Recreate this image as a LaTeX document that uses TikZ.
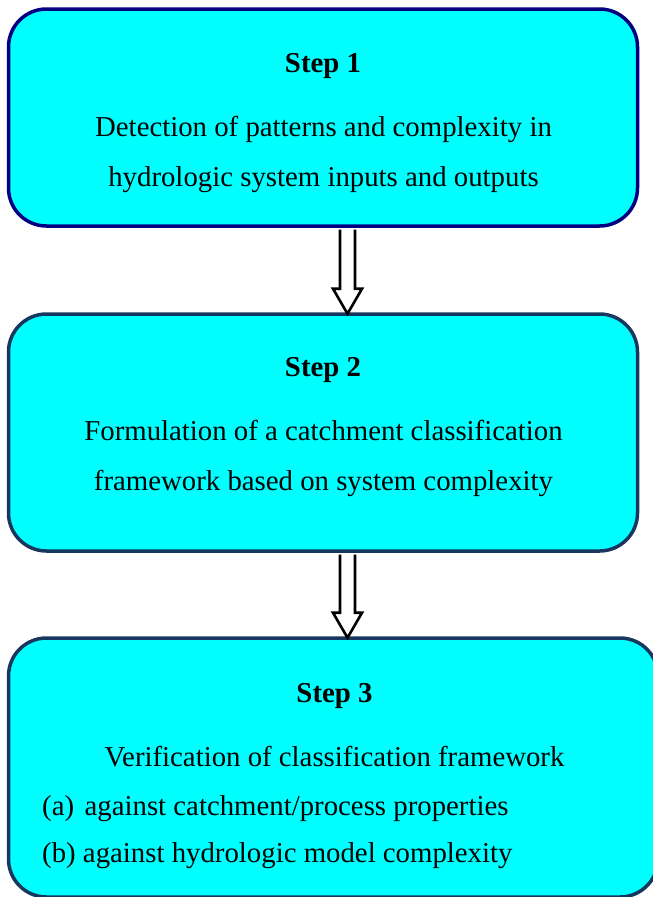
\documentclass[tikz,border=0pt]{standalone}
\usepackage{fontspec}
\setmainfont{Liberation Serif}
\usetikzlibrary{calc}
\definecolor{navyline}{RGB}{0,0,128}
\definecolor{slateline}{RGB}{23,55,94}
\definecolor{boxcyan}{RGB}{0,255,255}

\begin{document}
\begin{tikzpicture}[x=1pt, y=1pt,
    stepbox/.style={draw=slateline, line width=3.5pt, fill=boxcyan, rounded corners=38pt, inner sep=0pt},
    steptitle/.style={anchor=base, inner sep=0pt, font=\fontsize{28.8}{34}\selectfont\bfseries},
    steptext/.style={anchor=base, inner sep=0pt, font=\fontsize{28.8}{34}\selectfont},
    blockarrow/.style={draw=black, fill=white, line width=2.6pt, miter limit=10}]
  \useasboundingbox (0,0) rectangle (653,-897);
  % step boxes
  \node[stepbox, draw=navyline, minimum width=629pt, minimum height=217pt] (box1) at (323,-117.5) {};
  \node[stepbox, minimum width=629pt, minimum height=237pt] (box2) at (323,-432.5) {};
  \node[stepbox, minimum width=649.5pt, minimum height=259pt] (box3) at (333.25,-767.5) {};
  % hollow arrows between the boxes
  \foreach \from/\to in {box1/box2, box2/box3}{
    \coordinate (top) at ($(\from.south)+(24.5,-1.8)$);
    \coordinate (tip) at ($(top |- \to.north)+(0,-1.5)$);
    \draw[blockarrow] ($(top)+(-7.5,0)$) -- ($(tip)+(-7.5,25)$) -- ($(tip)+(-14.5,25)$)
      -- (tip) -- ($(tip)+(14.5,25)$) -- ($(tip)+(7.5,25)$) -- ($(top)+(7.5,0)$);
  }
  % step 1
  \node[steptitle] (title1) at (323,-72) {Step 1};
  \node[steptext] (text1a) at (323.5,-136) {Detection of patterns and complexity in};
  \node[steptext] (text1b) at (323.5,-186) {hydrologic system inputs and outputs};
  % step 2
  \node[steptitle] (title2) at (323,-376) {Step 2};
  \node[steptext] (text2a) at (323.5,-440) {Formulation of a catchment classification};
  \node[steptext] (text2b) at (323.5,-490) {framework based on system complexity};
  % step 3
  \node[steptitle] (title3) at (334.5,-702) {Step 3};
  \node[steptext] (text3a) at (334.5,-766) {Verification of classification framework};
  \node[steptext, anchor=base west] (text3b) at (42,-815) {(a)\hspace{10.5pt}against catchment/process properties};
  \node[steptext, anchor=base west] (text3c) at (42,-862) {(b) against hydrologic model complexity};
\end{tikzpicture}
\end{document}
